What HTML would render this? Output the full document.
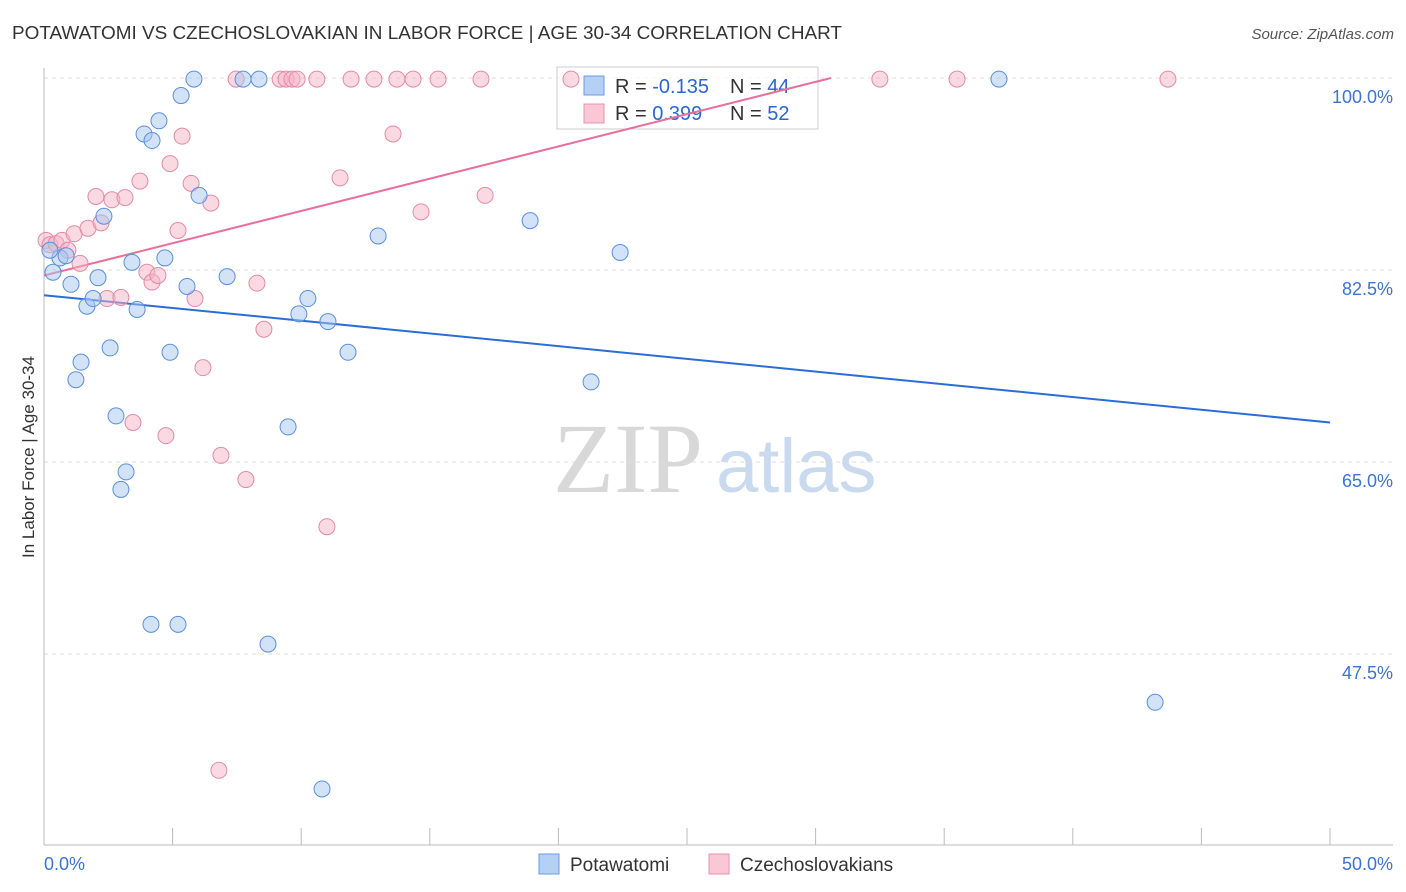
<!DOCTYPE html>
<html><head><meta charset="utf-8"><style>
body{margin:0;background:#fff;font-family:"Liberation Sans",sans-serif;}
svg{display:block}
</style></head><body>
<svg id="chart" width="1406" height="892" viewBox="0 0 1406 892">
<text x="12" y="39" font-size="18" fill="#333" textLength="830" lengthAdjust="spacingAndGlyphs">POTAWATOMI VS CZECHOSLOVAKIAN IN LABOR FORCE | AGE 30-34 CORRELATION CHART</text>
<text x="1394" y="39" font-size="15" fill="#555" font-style="italic" text-anchor="end">Source: ZipAtlas.com</text>
<g>
<text x="553" y="492" font-family="Liberation Serif,serif" font-size="100" fill="#d8d8d8">ZIP</text>
<text x="716" y="492" font-size="76" fill="#c9d9ee">atlas</text>
</g>
<g id="grid"></g><g id="axes"></g>
<g>
<rect x="557" y="67" width="261" height="62" fill="#fff" fill-opacity="0.75" stroke="#ccc"/>
<rect x="584" y="76" width="20" height="19" fill="#b4d0f4" stroke="#6a9be0"/>
<rect x="584" y="104" width="20" height="19" fill="#f9c7d6" stroke="#e890aa"/>
<text x="615" y="93" font-size="20" fill="#333">R = <tspan fill="#2a66d0">-0.135</tspan></text>
<text x="730" y="93" font-size="20" fill="#333">N = <tspan fill="#2a66d0">44</tspan></text>
<text x="615" y="120" font-size="20" fill="#333">R = <tspan fill="#2a66d0"> 0.399</tspan></text>
<text x="730" y="120" font-size="20" fill="#333">N = <tspan fill="#2a66d0">52</tspan></text>
</g>
<g id="trends"></g><g id="points"></g>
<text x="34" y="457" font-size="17" fill="#333" text-anchor="middle" transform="rotate(-90 34 457)">In Labor Force | Age 30-34</text>
<g>
<rect x="539" y="854" width="20" height="20" fill="#b4d0f4" stroke="#6a9be0"/>
<text x="570" y="871" font-size="19" fill="#333">Potawatomi</text>
<rect x="709" y="854" width="20" height="20" fill="#f9c7d6" stroke="#e890aa"/>
<text x="740" y="871" font-size="19" fill="#333">Czechoslovakians</text>
</g>
</svg>
<script>
const blueX=[0.35,0.62,0.86,1.05,1.24,1.44,1.67,1.91,2.10,2.33,2.57,2.80,2.99,3.19,3.42,3.62,3.89,4.16,4.20,4.47,4.70,4.90,5.21,5.33,5.56,5.83,6.03,7.12,7.74,8.36,8.71,9.49,9.91,10.26,10.81,11.04,11.82,12.99,18.90,21.27,22.40,37.13,43.20,0.23];
const blueY=[82.3,83.6,83.8,81.2,72.5,74.1,79.2,79.9,81.8,87.4,75.4,69.2,62.5,64.1,83.2,78.9,94.9,50.2,94.3,96.1,83.6,75.0,50.2,98.4,81.0,99.9,89.3,81.9,99.9,99.9,48.4,68.2,78.5,79.9,35.2,77.8,75.0,85.6,87.0,72.3,84.1,99.9,43.1,84.3];
const pinkX=[0.08,0.23,0.47,0.70,0.93,1.17,1.40,1.71,2.02,2.22,2.45,2.64,2.99,3.15,3.46,3.73,4.00,4.20,4.43,4.74,4.90,5.21,5.37,5.72,5.87,6.18,6.49,6.80,6.88,7.47,7.85,8.28,8.55,9.18,9.41,9.64,9.84,10.61,11.00,11.51,11.94,12.83,13.57,13.72,14.35,14.66,15.32,16.99,17.15,20.49,32.50,35.50,43.70];
const pinkY=[85.2,84.8,84.9,85.2,84.3,85.8,83.1,86.3,89.2,86.8,79.9,88.9,80.0,89.1,68.6,90.6,82.3,81.4,82.0,67.4,92.2,86.1,94.7,90.4,79.9,73.6,88.6,36.9,65.6,99.9,63.4,81.3,77.1,99.9,99.9,99.9,99.9,99.9,59.1,90.9,99.9,99.9,94.9,99.9,99.9,87.8,99.9,99.9,89.3,99.9,99.9,99.9,99.9];
const blueTrend=[80.2,68.6];
const pinkTrend=[82.0,100.0,30.6];
const yTicks=[100,82.5,65,47.5];
const yTickLabels=["100.0%","82.5%","65.0%","47.5%"];
const xLabels=["0.0%","50.0%"];
const NS="http://www.w3.org/2000/svg";
const X0=44,X1=1330,Y100=78,PPY=192/17.5;
const sx=v=>X0+v*(X1-X0)/50, sy=v=>Y100+(100-v)*PPY;
function mk(tag,attrs,parent){const e=document.createElementNS(NS,tag);for(const k in attrs)e.setAttribute(k,attrs[k]);document.getElementById(parent).appendChild(e);return e;}
yTicks.forEach((t,i)=>{
 const g=mk('line',{x1:X0,x2:1393,y1:sy(t),y2:sy(t),stroke:'#ddd','stroke-dasharray':'4,4'},'grid');
 
 
 const l=mk('text',{x:1393,y:sy(t)+25,'font-size':18,fill:'#3d72d0','text-anchor':'end'},'grid');
 l.textContent=yTickLabels[i];
 
 
});
const ax=mk('line',{x1:X0,x2:1393,y1:845,y2:845,stroke:'#bbb'},'axes');


const ay=mk('line',{x1:X0,x2:X0,y1:68,y2:845,stroke:'#bbb'},'axes');


for(let i=0;i<=10;i++){const t=mk('line',{x1:sx(i*5),x2:sx(i*5),y1:828,y2:845,stroke:'#bbb'},'axes');
 
 }
[[0,'start',44],[50,'end',1393]].forEach((d,i)=>{const t=mk('text',{x:d[2],y:870,'font-size':18,fill:'#3d72d0','text-anchor':d[1]},'axes');t.textContent=xLabels[i];
 
 });
function dots(xs,ys,fill,stroke,name){xs.forEach((x,i)=>{const c=mk('circle',{cx:sx(x),cy:sy(ys[i]),r:8,fill:fill,'fill-opacity':0.5,stroke:stroke,'stroke-width':1},'points');
 
 });}
dots(pinkX,pinkY,'#f5b3c8','#e38aa6','czechoslovakian-point');
dots(blueX,blueY,'#a6c6f0','#5b8fda','potawatomi-point');
const bt=mk('line',{x1:sx(0),y1:sy(blueTrend[0]),x2:sx(50),y2:sy(blueTrend[1]),stroke:'#2a6dd6','stroke-width':2},'trends');


const pt=mk('line',{x1:sx(0),y1:sy(pinkTrend[0]),x2:sx(pinkTrend[2]),y2:sy(pinkTrend[1]),stroke:'#e8709a','stroke-width':2},'trends');


</script>
</body></html>
